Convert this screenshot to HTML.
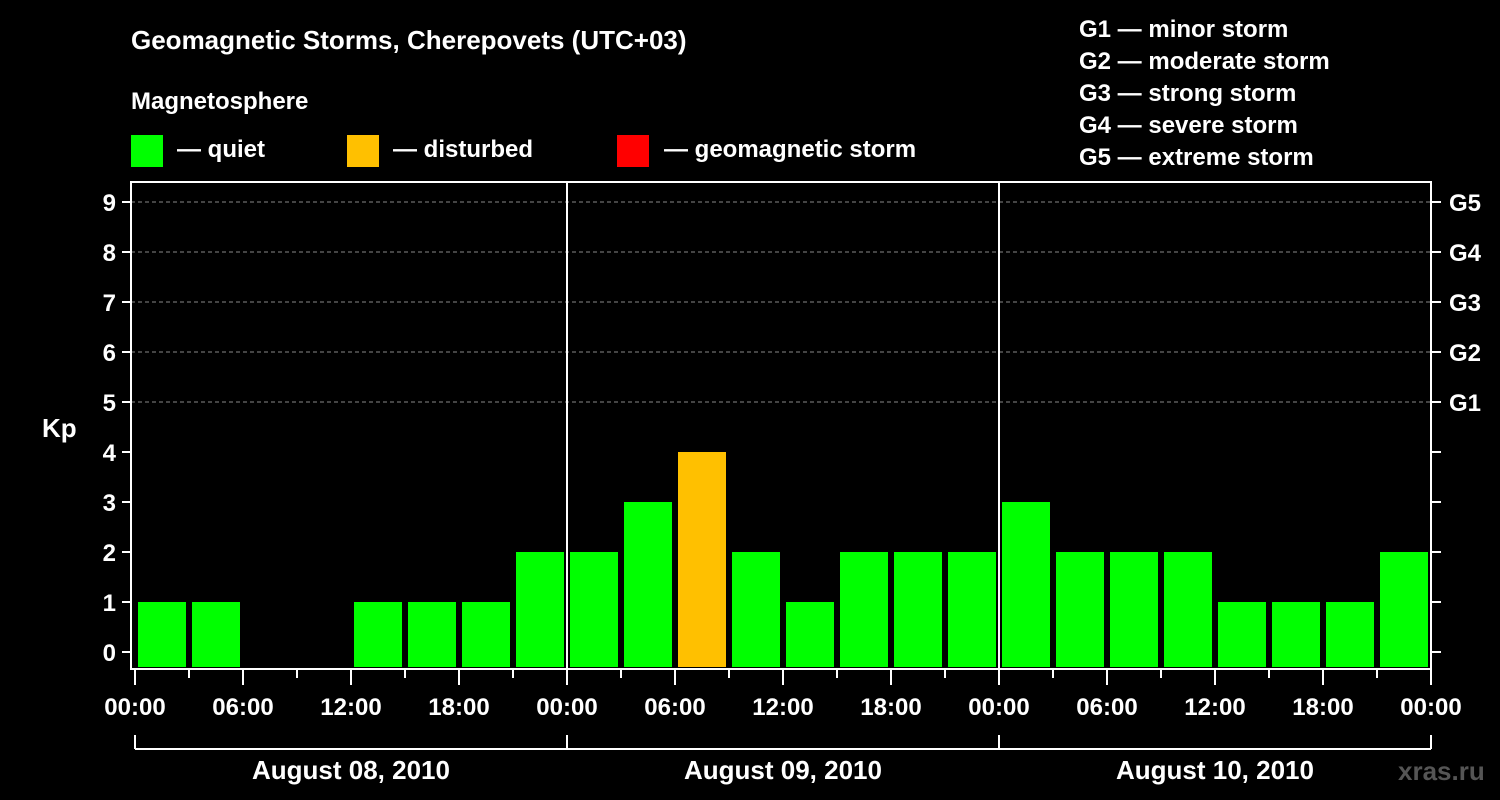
<!DOCTYPE html>
<html><head><meta charset="utf-8"><style>
body{margin:0;background:#000;width:1500px;height:800px;overflow:hidden}
svg{display:block;font-family:"Liberation Sans",Arial,sans-serif;font-weight:bold}
</style></head><body>
<svg id="c" width="1500" height="800">
<rect width="1500" height="800" fill="#000"/>
<text x="131" y="49" fill="#fff" font-size="26">Geomagnetic Storms, Cherepovets (UTC+03)</text>
<text x="131" y="109" fill="#fff" font-size="24">Magnetosphere</text>
<g><rect x="131" y="135" width="32" height="32" fill="#00ff00"/><text x="177" y="157" fill="#fff" font-size="24">— quiet</text></g>
<g><rect x="347" y="135" width="32" height="32" fill="#ffc000"/><text x="393" y="157" fill="#fff" font-size="24">— disturbed</text></g>
<g><rect x="617" y="135" width="32" height="32" fill="#ff0000"/><text x="664" y="157" fill="#fff" font-size="24">— geomagnetic storm</text></g>
<g fill="#fff" font-size="24">
<text x="1079" y="37">G1 — minor storm</text><text x="1079" y="69">G2 — moderate storm</text><text x="1079" y="101">G3 — strong storm</text><text x="1079" y="133">G4 — severe storm</text><text x="1079" y="165">G5 — extreme storm</text>
</g>
<text x="42" y="437" fill="#fff" font-size="26">Kp</text>
<text x="1398" y="780" fill="#555" font-size="26">xras.ru</text>
<g id="plot"></g>
</svg>
<script>
const days=["August 08, 2010","August 09, 2010","August 10, 2010"];
const kpValues=[1,1,0,0,1,1,1,2, 2,3,4,2,1,2,2,2, 3,2,2,2,1,1,1,2];
const yTicks=[0,1,2,3,4,5,6,7,8,9];
const gLabels=["G1","G2","G3","G4","G5"];
const xTickLabels=["00:00","06:00","12:00","18:00"];
const NS="http://www.w3.org/2000/svg";
const g=document.getElementById('plot');
const L=131,R=1431,T=182,B=669,X0=135,DAY=432;
const y=v=>652-v*50;
const x=h=>X0+h*DAY/24;
function mk(t,a,p){const e=document.createElementNS(NS,t);for(const k in a)e.setAttribute(k,a[k]);(p||g).appendChild(e);return e;}
// grid
for(let v=5;v<=9;v++){const e=mk('line',{x1:L,x2:R,y1:y(v),y2:y(v),stroke:'#888','stroke-dasharray':'4,3','stroke-width':1});

}
// bars
kpValues.forEach((v,i)=>{if(v<=0)return;
const col=v>=5?'#ff0000':(v>=4?'#ffc000':'#00ff00');
const e=mk('rect',{x:x(i*3)+3,y:y(v),width:DAY/8-6,height:667-y(v),fill:col});

});
// axes frame
mk('rect',{x:L,y:T,width:R-L,height:B-T,fill:'none',stroke:'#fff','stroke-width':2});
for(let d=1;d<days.length;d++){mk('line',{x1:x(d*24),x2:x(d*24),y1:T,y2:B,stroke:'#fff','stroke-width':2});}
// y ticks
yTicks.forEach(v=>{mk('line',{x1:122,x2:L,y1:y(v),y2:y(v),stroke:'#fff','stroke-width':2});
mk('line',{x1:R,x2:R+10,y1:y(v),y2:y(v),stroke:'#fff','stroke-width':2});
const t=mk('text',{x:116,y:y(v)+9,fill:'#fff','font-size':24,'text-anchor':'end'});t.textContent=v;

});
gLabels.forEach((s,i)=>{const t=mk('text',{x:1449,y:y(5+i)+9,fill:'#fff','font-size':24});t.textContent=s;

});
// x ticks
for(let h=0;h<=72;h+=3){const major=h%6===0;
mk('line',{x1:x(h),x2:x(h),y1:B,y2:major?685:678,stroke:'#fff','stroke-width':2});
if(major){const t=mk('text',{x:x(h),y:715,fill:'#fff','font-size':24,'text-anchor':'middle'});t.textContent=xTickLabels[(h/6)%4];

}}
// date bracket
mk('line',{x1:x(0),x2:x(72),y1:749,y2:749,stroke:'#fff','stroke-width':2});
for(let d=0;d<=days.length;d++)mk('line',{x1:x(d*24),x2:x(d*24),y1:735,y2:749,stroke:'#fff','stroke-width':2});
days.forEach((s,d)=>{const t=mk('text',{x:x(d*24+12),y:779,fill:'#fff','font-size':26,'text-anchor':'middle'});t.textContent=s;

});
</script>
</body></html>
